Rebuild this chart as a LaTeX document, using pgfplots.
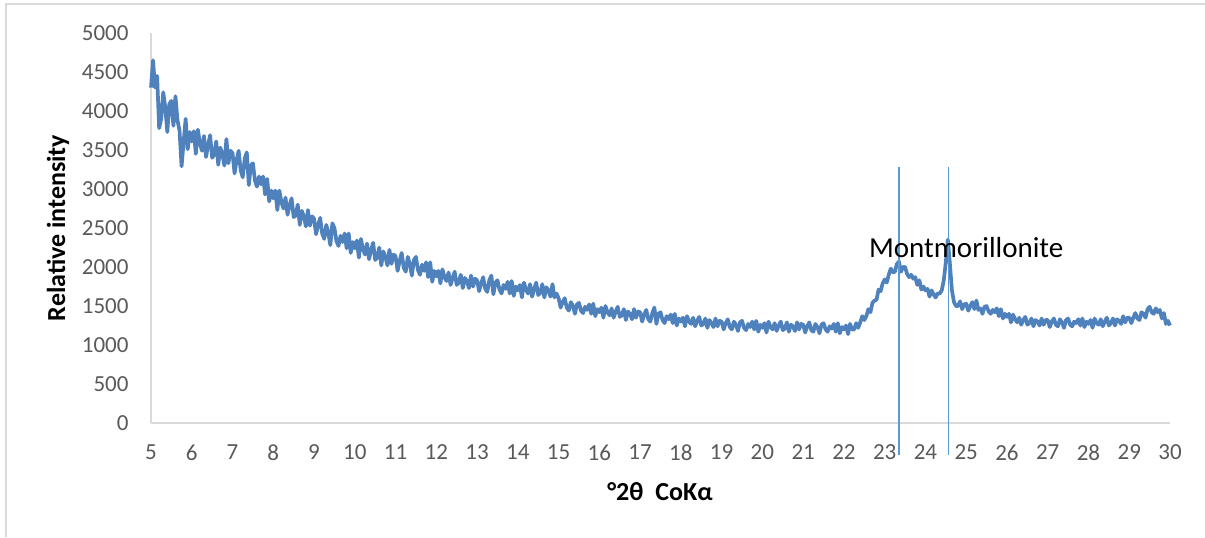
\documentclass[border=0pt]{standalone}
\usepackage{fontspec}
\setmainfont{Carlito}
\usepackage{pgfplots}
\usepackage{pgfplotstable}
\pgfplotsset{compat=1.18}

\definecolor{seriesblue}{RGB}{79,129,189}
\definecolor{peakline}{RGB}{91,155,213}
\definecolor{axisgrey}{RGB}{217,217,217}
\definecolor{ticktext}{RGB}{89,89,89}

% Diffractogram, 2theta (degrees, Co K-alpha) vs. relative intensity
\pgfplotstableread{
x y
5.00 4300
5.05 4650
5.10 4300
5.15 4450
5.20 3780
5.25 3900
5.30 4240
5.35 4050
5.40 3730
5.45 4090
5.50 4130
5.55 3810
5.60 4190
5.65 3880
5.70 3750
5.75 3290
5.80 3600
5.85 3900
5.90 3510
5.95 3730
6.00 3610
6.05 3740
6.10 3450
6.15 3760
6.20 3590
6.25 3490
6.30 3680
6.35 3410
6.40 3560
6.45 3690
6.50 3400
6.55 3440
6.60 3610
6.65 3310
6.70 3530
6.75 3450
6.80 3300
6.85 3640
6.90 3330
6.95 3490
7.00 3460
7.05 3200
7.10 3370
7.15 3490
7.20 3240
7.25 3150
7.30 3390
7.35 3470
7.40 3050
7.45 3300
7.50 3330
7.55 3110
7.60 3030
7.65 3160
7.70 3060
7.75 3160
7.80 2930
7.85 3130
7.90 2840
7.95 2980
8.00 2880
8.05 2980
8.10 2730
8.15 2980
8.20 2830
8.25 2750
8.30 2890
8.35 2670
8.40 2790
8.45 2880
8.50 2640
8.55 2660
8.60 2800
8.65 2540
8.70 2720
8.75 2650
8.80 2520
8.85 2730
8.90 2530
8.95 2650
9.00 2620
9.05 2420
9.10 2540
9.15 2630
9.20 2430
9.25 2360
9.30 2540
9.35 2440
9.40 2280
9.45 2560
9.50 2500
9.55 2330
9.60 2270
9.65 2400
9.70 2320
9.75 2430
9.80 2240
9.85 2430
9.90 2180
9.95 2320
10.00 2240
10.05 2340
10.10 2120
10.15 2360
10.20 2230
10.25 2160
10.30 2300
10.35 2100
10.40 2220
10.45 2310
10.50 2090
10.55 2120
10.60 2250
10.65 2020
10.70 2200
10.75 2130
10.80 2020
10.85 2220
10.90 2040
10.95 2160
11.00 2140
11.05 1950
11.10 2080
11.15 2180
11.20 1990
11.25 1940
11.30 2130
11.35 2040
11.40 1890
11.45 2090
11.50 2130
11.55 1960
11.60 1900
11.65 2030
11.70 1950
11.75 2060
11.80 1870
11.85 2060
11.90 1810
11.95 1950
12.00 1880
12.05 1950
12.10 1790
12.15 1970
12.20 1870
12.25 1820
12.30 1930
12.35 1770
12.40 1860
12.45 1940
12.50 1770
12.55 1800
12.60 1900
12.65 1730
12.70 1860
12.75 1820
12.80 1730
12.85 1890
12.90 1750
12.95 1850
13.00 1830
13.05 1690
13.10 1790
13.15 1870
13.20 1720
13.25 1680
13.30 1830
13.35 1890
13.40 1650
13.45 1800
13.50 1830
13.55 1710
13.60 1660
13.65 1770
13.70 1720
13.75 1810
13.80 1660
13.85 1820
13.90 1630
13.95 1750
14.00 1700
14.05 1770
14.10 1610
14.15 1800
14.20 1710
14.25 1660
14.30 1780
14.35 1620
14.40 1720
14.45 1800
14.50 1640
14.55 1670
14.60 1780
14.65 1610
14.70 1740
14.75 1700
14.80 1620
14.85 1780
14.90 1610
14.95 1660
15.00 1600
15.05 1480
15.10 1550
15.15 1600
15.20 1480
15.25 1440
15.30 1550
15.35 1500
15.40 1400
15.45 1520
15.50 1540
15.55 1440
15.60 1410
15.65 1490
15.70 1450
15.75 1520
15.80 1400
15.85 1530
15.90 1370
15.95 1460
16.00 1420
16.05 1480
16.10 1350
16.15 1500
16.20 1420
16.25 1380
16.30 1470
16.35 1350
16.40 1430
16.45 1490
16.50 1360
16.55 1380
16.60 1460
16.65 1320
16.70 1430
16.75 1400
16.80 1330
16.85 1460
16.90 1350
16.95 1430
17.00 1420
17.05 1300
17.10 1390
17.15 1450
17.20 1330
17.25 1300
17.30 1410
17.35 1480
17.40 1270
17.45 1400
17.50 1420
17.55 1320
17.60 1280
17.65 1370
17.70 1330
17.75 1390
17.80 1280
17.85 1400
17.90 1250
17.95 1340
18.00 1300
18.05 1350
18.10 1240
18.15 1370
18.20 1300
18.25 1270
18.30 1350
18.35 1240
18.40 1310
18.45 1360
18.50 1250
18.55 1270
18.60 1340
18.65 1220
18.70 1320
18.75 1280
18.80 1230
18.85 1340
18.90 1240
18.95 1310
19.00 1300
19.05 1200
19.10 1280
19.15 1330
19.20 1230
19.25 1200
19.30 1300
19.35 1260
19.40 1180
19.45 1290
19.50 1310
19.55 1220
19.60 1190
19.65 1270
19.70 1230
19.75 1300
19.80 1200
19.85 1310
19.90 1170
19.95 1260
20.00 1220
20.05 1280
20.10 1160
20.15 1300
20.20 1230
20.25 1200
20.30 1280
20.35 1180
20.40 1250
20.45 1300
20.50 1190
20.55 1210
20.60 1290
20.65 1170
20.70 1260
20.75 1240
20.80 1180
20.85 1290
20.90 1200
20.95 1270
21.00 1260
21.05 1160
21.10 1240
21.15 1290
21.20 1190
21.25 1170
21.30 1270
21.35 1230
21.40 1150
21.45 1260
21.50 1280
21.55 1200
21.60 1170
21.65 1240
21.70 1210
21.75 1270
21.80 1170
21.85 1280
21.90 1150
21.95 1230
22.00 1200
22.05 1250
22.10 1140
22.15 1270
22.20 1200
22.25 1200
22.30 1280
22.35 1220
22.40 1290
22.45 1370
22.50 1320
22.55 1370
22.60 1460
22.65 1420
22.70 1540
22.75 1570
22.80 1580
22.85 1710
22.90 1690
22.95 1790
23.00 1840
23.05 1800
23.10 1900
23.15 1980
23.20 1930
23.25 1940
23.30 2040
23.35 2070
23.40 1940
23.45 2000
23.50 2000
23.55 1910
23.60 1870
23.65 1900
23.70 1850
23.75 1870
23.80 1770
23.85 1830
23.90 1710
23.95 1750
24.00 1700
24.05 1720
24.10 1620
24.15 1700
24.20 1650
24.25 1610
24.30 1660
24.35 1660
24.40 1700
24.45 1830
24.50 2060
24.55 2350
24.60 2040
24.65 1700
24.70 1550
24.75 1500
24.80 1500
24.85 1560
24.90 1460
24.95 1520
25.00 1530
25.05 1440
25.10 1500
25.15 1550
25.20 1460
25.25 1570
25.30 1450
25.35 1470
25.40 1400
25.45 1490
25.50 1500
25.55 1430
25.60 1400
25.65 1450
25.70 1420
25.75 1470
25.80 1370
25.85 1460
25.90 1340
25.95 1400
26.00 1360
26.05 1400
26.10 1290
26.15 1390
26.20 1330
26.25 1290
26.30 1350
26.35 1260
26.40 1320
26.45 1360
26.50 1260
26.55 1280
26.60 1340
26.65 1240
26.70 1320
26.75 1300
26.80 1250
26.85 1340
26.90 1260
26.95 1320
27.00 1320
27.05 1230
27.10 1300
27.15 1340
27.20 1260
27.25 1240
27.30 1330
27.35 1290
27.40 1220
27.45 1320
27.50 1340
27.55 1260
27.60 1240
27.65 1300
27.70 1280
27.75 1330
27.80 1250
27.85 1340
27.90 1230
27.95 1300
28.00 1270
28.05 1320
28.10 1220
28.15 1340
28.20 1280
28.25 1260
28.30 1330
28.35 1240
28.40 1300
28.45 1350
28.50 1250
28.55 1280
28.60 1340
28.65 1250
28.70 1330
28.75 1310
28.80 1270
28.85 1370
28.90 1290
28.95 1350
29.00 1350
29.05 1280
29.10 1350
29.15 1410
29.20 1340
29.25 1320
29.30 1420
29.35 1400
29.40 1350
29.45 1460
29.50 1490
29.55 1420
29.60 1400
29.65 1470
29.70 1420
29.75 1450
29.80 1340
29.85 1410
29.90 1270
29.95 1310
30.00 1250
}\xrddata

\begin{document}
\begin{tikzpicture}
\useasboundingbox (0,0) rectangle (602.5pt,268.5pt);
% outer chart frame (left and top edges)
\draw[axisgrey, line width=0.7pt] (3pt,0) -- (3pt,266.5pt) -- (602.5pt,266.5pt);
\begin{axis}[
  at={(75.5pt,57pt)}, anchor=south west,
  scale only axis,
  width=509.5pt, height=195pt,
  xmin=5, xmax=30, ymin=0, ymax=5000,
  xtick={5,6,...,30},
  ytick={0,500,...,5000},
  axis lines=left,
  axis line style={-, draw=axisgrey, line width=0.8pt},
  major tick length=0pt,
  tick style={draw=none},
  clip=false,
  /pgf/number format/assume math mode=true,
  /pgf/number format/1000 sep={},
  ticklabel style={font=\fontsize{11.5}{13}\selectfont, text=ticktext},
  yticklabel style={xshift=-7.7pt},
  xticklabel style={yshift=-7.5pt},
  xlabel={°2θ\ \ CoKα},
  ylabel={Relative intensity},
  every axis x label/.style={at={(axis description cs:0.4995,-0.177)}, anchor=center,
    font=\fontsize{13}{15}\selectfont\bfseries, text=black},
  every axis y label/.style={at={(axis description cs:-0.0913,0.5)}, anchor=center, rotate=90,
    font=\fontsize{13}{15}\selectfont\bfseries, text=black},
]
\addplot[seriesblue, line width=1.85pt, line join=round, mark=none] table[x=x, y=y] {\xrddata};
% reflection positions
\addplot[peakline, line width=0.6pt, mark=none] coordinates {(23.35,-410) (23.35,3280)};
\addplot[peakline, line width=0.6pt, mark=none] coordinates {(24.57,-410) (24.57,3280)};
\node[anchor=base, font=\fontsize{14.5}{17}\selectfont] at (axis cs:25.0,2128) {Montmorillonite};
\end{axis}
\end{tikzpicture}
\end{document}
